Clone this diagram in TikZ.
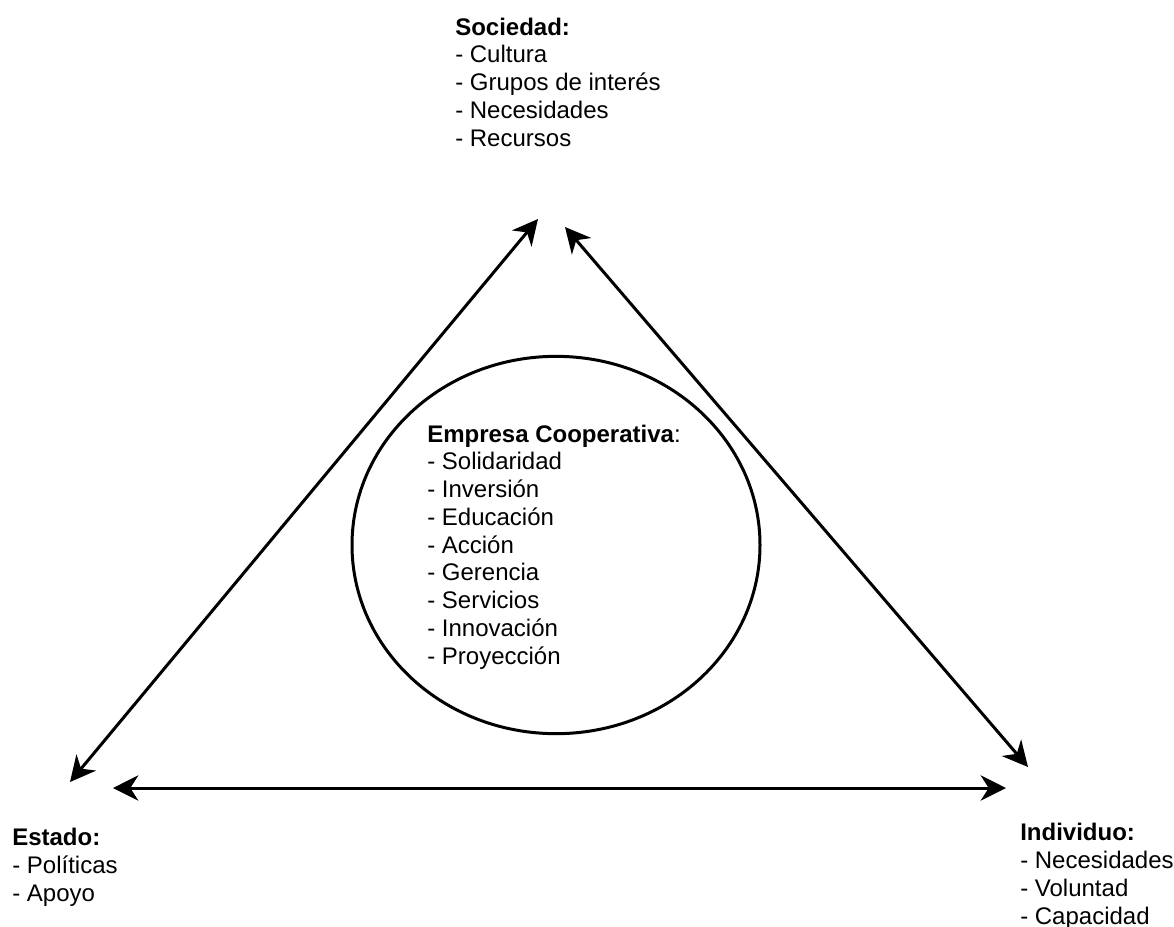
\documentclass[tikz,border=0pt]{standalone}
\usepackage{fontspec}
\setmainfont{Liberation Sans}
\usetikzlibrary{arrows.meta, shapes.geometric}

\begin{document}
\begin{tikzpicture}[
  x=0.75pt, y=-0.75pt,
  every node/.style={font=\fontsize{18}{20.8}\selectfont},
  % base anchor sits on the last line
  listtext/.style={anchor=base west, align=left, inner sep=0pt},
  link/.style={{Stealth[length=19pt, width=19pt, inset=6pt]}-{Stealth[length=19pt, width=19pt, inset=6pt]}, line width=2.25pt}
]
\useasboundingbox (0,0) rectangle (1174,926);

% The three corners
\node[listtext] (soc) at (455,146)
  {\textbf{Sociedad:}\\- Cultura\\- Grupos de interés\\- Necesidades\\- Recursos};
\node[listtext] (est) at (12,901)
  {\textbf{Estado:}\\- Políticas\\- Apoyo};
\node[listtext] (ind) at (1020,924)
  {\textbf{Individuo:}\\- Necesidades\\- Voluntad\\- Capacidad};

% Cooperative in the middle
\node[draw, ellipse, line width=2.25pt, minimum width=306pt, minimum height=283pt, inner sep=0pt] (coop) at (556,545) {};
\node[listtext] (cooptxt) at (427,664)
  {\textbf{Empresa Cooperativa}:\\- Solidaridad\\- Inversión\\- Educación\\- Acción\\- Gerencia\\- Servicios\\- Innovación\\- Proyección};

% Arrow ends
\coordinate (socL) at (538,219);
\coordinate (socR) at (565,227);
\coordinate (estU) at (70,782);
\coordinate (estR) at (113,788);
\coordinate (indU) at (1028,767);
\coordinate (indL) at (1006,788);

\draw[link] (estU) -- (socL);
\draw[link] (socR) -- (indU);
\draw[link] (estR) -- (indL);

\end{tikzpicture}
\end{document}
